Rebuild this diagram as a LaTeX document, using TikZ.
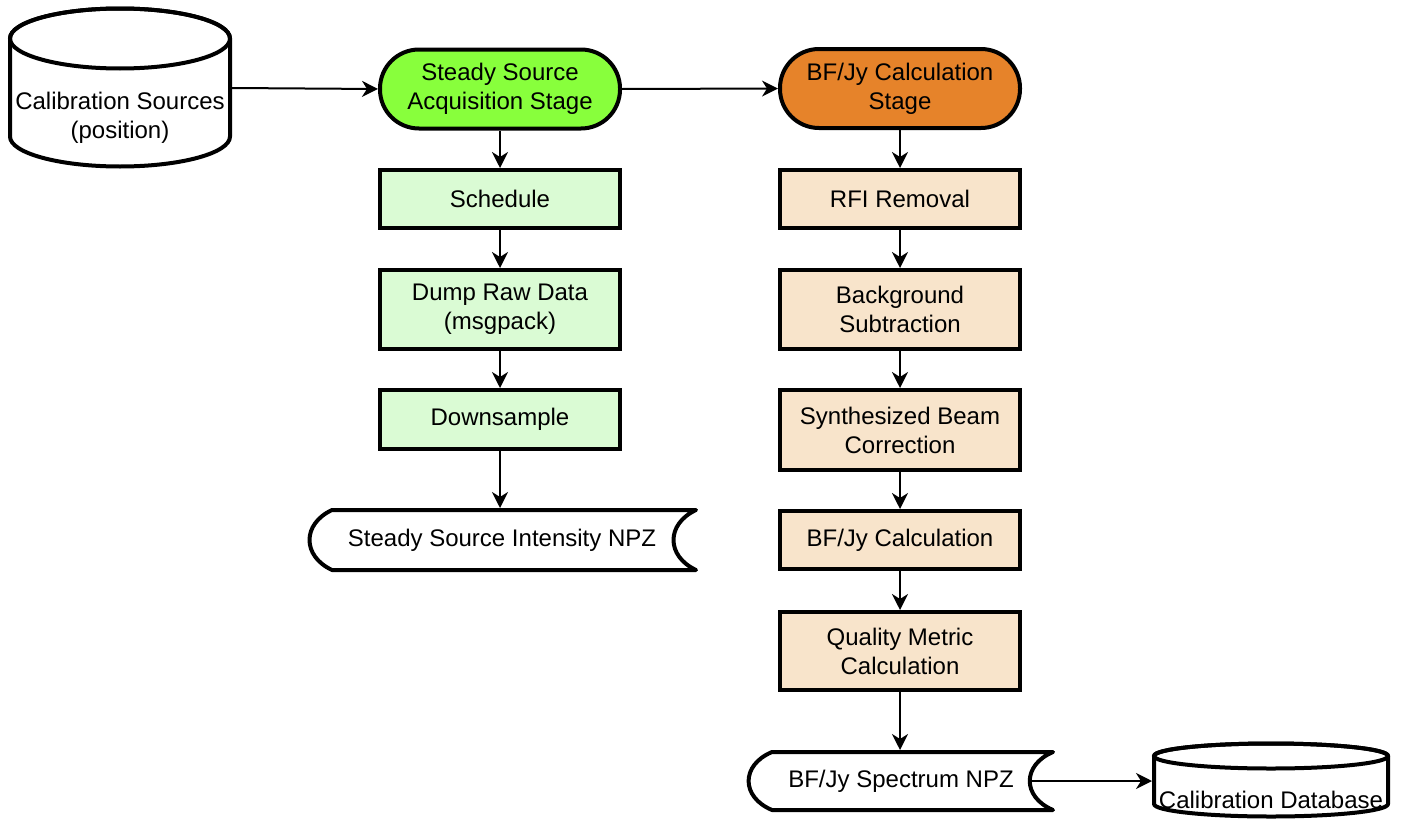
\documentclass[tikz,border=0pt]{standalone}
\usepackage{fontspec}
\setmainfont{Liberation Sans}
\usetikzlibrary{arrows.meta}
\definecolor{stgreen}{HTML}{88FF3C}
\definecolor{boxgreen}{HTML}{DAFBD4}
\definecolor{storange}{HTML}{E6832A}
\definecolor{boxorange}{HTML}{F8E4CB}
\begin{document}
\begin{tikzpicture}[x=1pt,y=-1pt,
  every node/.style={font=\fontsize{24}{29}\selectfont, align=center},
  stage/.style={draw, line width=4pt, rounded corners=39pt, minimum width=240pt, minimum height=79pt, inner sep=0pt},
  procbox/.style={draw, line width=4pt, minimum width=240pt, inner sep=0pt},
  ghost/.style={inner sep=0pt, outer sep=0pt},
  flow/.style={line width=2pt, -{Stealth[length=16pt,width=16pt,inset=5pt]}},
  outline/.style={line width=4pt, fill=white, line join=round}]
\useasboundingbox (0,0) rectangle (1413,819);

% --- cylinder: calibration sources
\draw[outline] (10,38.5) -- (10,136.5)
  arc[start angle=180, end angle=360, x radius=110pt, y radius=30pt]
  -- (230,38.5)
  arc[start angle=0, end angle=180, x radius=110pt, y radius=30pt] -- cycle;
\draw[line width=4pt] (120,38.5) ellipse[x radius=110pt, y radius=30pt];
\node[ghost, minimum width=224pt, minimum height=161pt] (src) at (120,88) {};
\node (srclabel) at (120,118) {Calibration Sources\\(position)};

% --- cylinder: calibration database
\draw[outline] (1154,756) -- (1154,804)
  arc[start angle=180, end angle=360, x radius=117pt, y radius=12.5pt]
  -- (1388,756)
  arc[start angle=0, end angle=180, x radius=117pt, y radius=12.5pt] -- cycle;
\draw[line width=4pt] (1271,756) ellipse[x radius=117pt, y radius=12.5pt];
\node[ghost, minimum width=238pt, minimum height=76pt] (db) at (1271,781) {};
\node (dblabel) at (1271,800) {Calibration Database};

% --- stored data shapes
\draw[outline] (332,510) -- (696,510)
  .. controls (666,524) and (666,556) .. (696,570)
  -- (332,570)
  .. controls (302,556) and (302,524) .. cycle;
\node[ghost, minimum width=390pt, minimum height=64pt] (npz1) at (502,540) {Steady Source Intensity NPZ};

\draw[outline] (772,752) -- (1053,752)
  .. controls (1022,765) and (1022,797) .. (1053,810)
  -- (772,810)
  .. controls (740.8,797) and (740.8,765) .. cycle;
\node[ghost, minimum width=258pt, minimum height=62pt] (npz2) at (901,781) {BF/Jy Spectrum NPZ};

% --- stages
\node[stage, fill=stgreen] (acq) at (500,89) {Steady Source\\Acquisition Stage};
\node[stage, fill=storange] (calc) at (900,88.5) {BF/Jy Calculation\\Stage};

% --- left column
\node[procbox, fill=boxgreen, minimum height=58pt] (sched) at (500,199) {Schedule};
\node[procbox, fill=boxgreen, minimum height=79pt] (dump) at (500,309.5) {Dump Raw Data\\(msgpack)};
\node[procbox, fill=boxgreen, minimum height=59pt] (down) at (500,419.5) {Downsample};

% --- right column
\node[procbox, fill=boxorange, minimum height=58pt] (rfi) at (900,199) {RFI Removal};
\node[procbox, fill=boxorange, minimum height=79pt] (bg) at (900,309.5) {Background\\Subtraction};
\node[procbox, fill=boxorange, minimum height=80pt] (synth) at (900,430) {Synthesized Beam\\Correction};
\node[procbox, fill=boxorange, minimum height=58pt] (bfjy) at (900,540) {BF/Jy Calculation};
\node[procbox, fill=boxorange, minimum height=78pt] (qual) at (900,651) {Quality Metric\\Calculation};

% --- connectors
\draw[flow] (src.east) -- (acq.west);
\draw[flow] (acq.east) -- (calc.west);
\draw[flow] (acq) -- (sched);
\draw[flow] (sched) -- (dump);
\draw[flow] (dump) -- (down);
\draw[flow] (down.south) -- (down.south |- npz1.north);
\draw[flow] (calc) -- (rfi);
\draw[flow] (rfi) -- (bg);
\draw[flow] (bg) -- (synth);
\draw[flow] (synth) -- (bfjy);
\draw[flow] (bfjy) -- (qual);
\draw[flow] (qual.south) -- (qual.south |- npz2.north);
\draw[flow] (npz2.east) -- (db.west);
\end{tikzpicture}
\end{document}
